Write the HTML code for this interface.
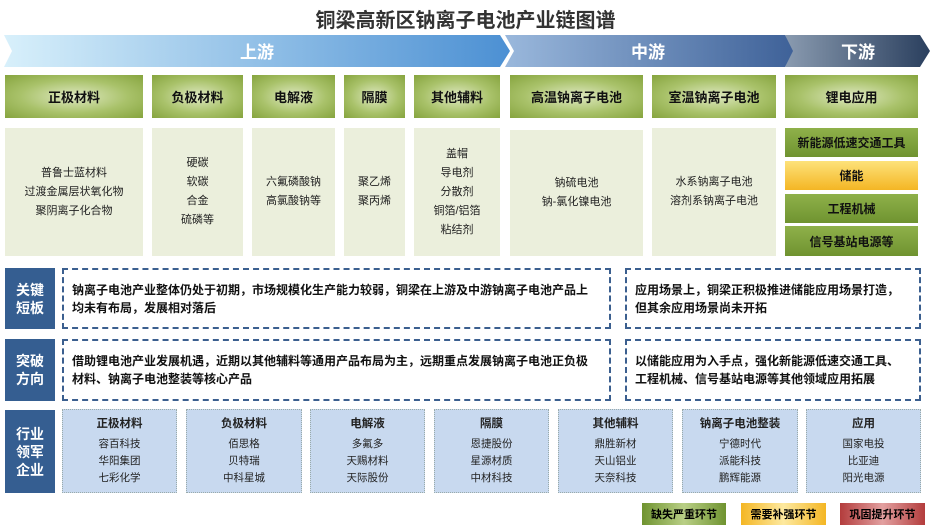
<!DOCTYPE html>
<html><head><meta charset="utf-8"><style>
*{margin:0;padding:0;box-sizing:border-box}
body{width:931px;height:532px;background:#fff;position:relative;overflow:hidden;font-family:"Liberation Sans","Noto Sans CJK SC",sans-serif}
.a{position:absolute}
.c{display:flex;align-items:center;justify-content:center;text-align:center;flex-direction:column}
.h{background:radial-gradient(ellipse at center,#dfe9c2 0%,#a9c26a 55%,#86a43e 100%);font-weight:bold;font-size:13px;color:#111}
.ct{background:#ebefdc;font-size:11px;color:#222;line-height:19px}
.g{background:linear-gradient(#8fb14a,#6f9330);font-weight:bold;font-size:12px;color:#111}
.y{background:linear-gradient(#fde27a,#f4b624);font-weight:bold;font-size:12px;color:#111}
.lb{background:#355e91;color:#fff;font-weight:bold;font-size:14px;line-height:18px}
.d{border:2px dashed #3b5f8f;font-size:12px;font-weight:bold;color:#111;line-height:18px;padding:6px 12px 6px 8px;display:flex;align-items:center}
.co{background:#c8d9ef;border:1px dotted #9aa;font-size:10.5px;line-height:17px;color:#222;justify-content:flex-start;padding-top:6px}
.co b{font-size:11.5px;margin-bottom:3px}
</style></head><body>
<div class="a" style="left:0;top:4px;width:931px;text-align:center;font-size:20px;font-weight:bold;color:#333">铜梁高新区钠离子电池产业链图谱</div>
<svg class="a" style="left:0;top:34px" width="931" height="34">
<defs>
<linearGradient id="g1"><stop offset="0" stop-color="#d8f0fb"/><stop offset="1" stop-color="#4c90d3"/></linearGradient>
<linearGradient id="g2"><stop offset="0" stop-color="#9ab8dc"/><stop offset="1" stop-color="#3e6198"/></linearGradient>
<linearGradient id="g3"><stop offset="0" stop-color="#8a9bb0"/><stop offset="1" stop-color="#2a3f5e"/></linearGradient>
</defs>
<polygon points="4,1 500,1 510,17 500,33 4,33 12,17" fill="url(#g1)"/>
<polygon points="505,1 785,1 795,17 785,33 505,33 514,17" fill="url(#g2)"/>
<polygon points="785,1 920,1 930,17 920,33 785,33 793,17" fill="url(#g3)"/>
<text x="257" y="24" fill="#fff" font-size="17" font-weight="bold" text-anchor="middle" font-family="Liberation Sans,Noto Sans CJK SC,sans-serif">上游</text>
<text x="648" y="24" fill="#fff" font-size="17" font-weight="bold" text-anchor="middle" font-family="Liberation Sans,Noto Sans CJK SC,sans-serif">中游</text>
<text x="858" y="24" fill="#fff" font-size="17" font-weight="bold" text-anchor="middle" font-family="Liberation Sans,Noto Sans CJK SC,sans-serif">下游</text>
</svg>
<div class="a c h" style="left:5px;top:75px;width:138px;height:43px">正极材料</div>
<div class="a c h" style="left:152px;top:75px;width:91px;height:43px">负极材料</div>
<div class="a c h" style="left:252px;top:75px;width:83px;height:43px">电解液</div>
<div class="a c h" style="left:344px;top:75px;width:61px;height:43px">隔膜</div>
<div class="a c h" style="left:414px;top:75px;width:86px;height:43px">其他辅料</div>
<div class="a c h" style="left:510px;top:75px;width:133px;height:43px">高温钠离子电池</div>
<div class="a c h" style="left:652px;top:75px;width:124px;height:43px">室温钠离子电池</div>
<div class="a c h" style="left:785px;top:75px;width:133px;height:43px">锂电应用</div>

<div class="a c ct" style="left:5px;top:128px;width:138px;height:128px">普鲁士蓝材料<br>过渡金属层状氧化物<br>聚阴离子化合物</div>
<div class="a c ct" style="left:152px;top:128px;width:91px;height:128px">硬碳<br>软碳<br>合金<br>硫磷等</div>
<div class="a c ct" style="left:252px;top:128px;width:83px;height:128px">六氟磷酸钠<br>高氯酸钠等</div>
<div class="a c ct" style="left:344px;top:128px;width:61px;height:128px">聚乙烯<br>聚丙烯</div>
<div class="a c ct" style="left:414px;top:128px;width:86px;height:128px">盖帽<br>导电剂<br>分散剂<br>铜箔/铝箔<br>粘结剂</div>
<div class="a c ct" style="left:510px;top:130px;width:133px;height:126px">钠硫电池<br>钠-氯化镍电池</div>
<div class="a c ct" style="left:652px;top:128px;width:124px;height:128px">水系钠离子电池<br>溶剂系钠离子电池</div>
<div class="a c g" style="left:785px;top:128px;width:133px;height:29px">新能源低速交通工具</div>
<div class="a c y" style="left:785px;top:161px;width:133px;height:29px">储能</div>
<div class="a c g" style="left:785px;top:194px;width:133px;height:29px">工程机械</div>
<div class="a c g" style="left:785px;top:226px;width:133px;height:30px">信号基站电源等</div>

<div class="a c lb" style="left:5px;top:268px;width:50px;height:61px">关键<br>短板</div>
<div class="a d" style="left:62px;top:268px;width:549px;height:61px">钠离子电池产业整体仍处于初期，市场规模化生产能力较弱，铜梁在上游及中游钠离子电池产品上均未有布局，发展相对落后</div>
<div class="a d" style="left:625px;top:268px;width:296px;height:61px">应用场景上，铜梁正积极推进储能应用场景打造，但其余应用场景尚未开拓</div>
<div class="a c lb" style="left:5px;top:339px;width:50px;height:62px">突破<br>方向</div>
<div class="a d" style="left:62px;top:339px;width:549px;height:62px">借助锂电池产业发展机遇，近期以其他辅料等通用产品布局为主，远期重点发展钠离子电池正负极材料、钠离子电池整装等核心产品</div>
<div class="a d" style="left:625px;top:339px;width:296px;height:62px">以储能应用为入手点，强化新能源低速交通工具、工程机械、信号基站电源等其他领域应用拓展</div>

<div class="a c lb" style="left:5px;top:410px;width:50px;height:83px">行业<br>领军<br>企业</div>
<div class="a c co" style="left:62px;top:409px;width:115px;height:84px"><b>正极材料</b>容百科技<br>华阳集团<br>七彩化学</div>
<div class="a c co" style="left:186px;top:409px;width:116px;height:84px"><b>负极材料</b>佰思格<br>贝特瑞<br>中科星城</div>
<div class="a c co" style="left:310px;top:409px;width:115px;height:84px"><b>电解液</b>多氟多<br>天赐材料<br>天际股份</div>
<div class="a c co" style="left:434px;top:409px;width:115px;height:84px"><b>隔膜</b>恩捷股份<br>星源材质<br>中材科技</div>
<div class="a c co" style="left:558px;top:409px;width:115px;height:84px"><b>其他辅料</b>鼎胜新材<br>天山铝业<br>天奈科技</div>
<div class="a c co" style="left:682px;top:409px;width:116px;height:84px"><b>钠离子电池整装</b>宁德时代<br>派能科技<br>鹏辉能源</div>
<div class="a c co" style="left:806px;top:409px;width:115px;height:84px"><b>应用</b>国家电投<br>比亚迪<br>阳光电源</div>

<div class="a c" style="left:642px;top:503px;width:84px;height:22px;background:linear-gradient(90deg,#6f9330,#b9cf86,#6f9330);font-size:11px;font-weight:bold">缺失严重环节</div>
<div class="a c" style="left:741px;top:503px;width:85px;height:22px;background:linear-gradient(90deg,#f4b624,#fde9a0,#f4b624);font-size:11px;font-weight:bold">需要补强环节</div>
<div class="a c" style="left:840px;top:503px;width:85px;height:22px;background:linear-gradient(90deg,#b33c3c,#e2a0a0,#b33c3c);font-size:11px;font-weight:bold">巩固提升环节</div>
</body></html>
